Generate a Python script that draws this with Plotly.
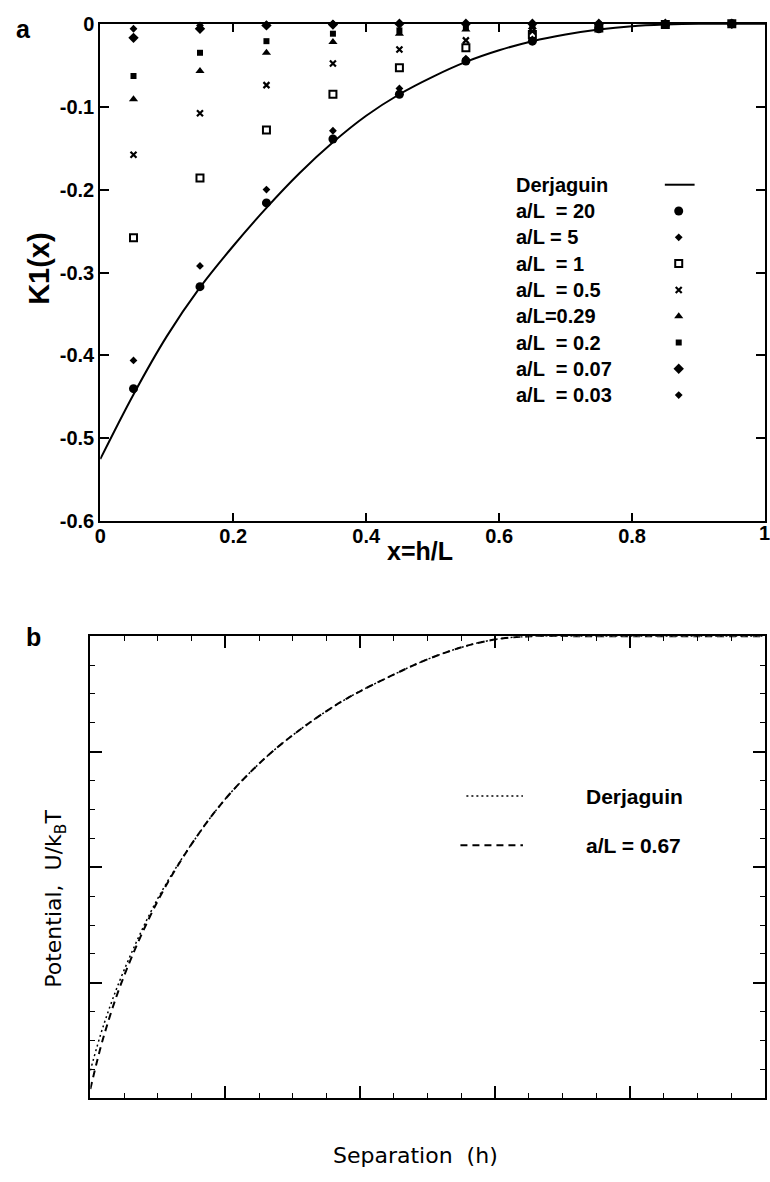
import plotly.graph_objects as go

# ---------------- Panel a data ----------------
x_pts = [0.05, 0.15, 0.25, 0.35, 0.45, 0.55, 0.65, 0.75, 0.85, 0.95]

derj_x = [0, 0.05, 0.1, 0.15, 0.2, 0.25, 0.3, 0.35, 0.4, 0.45, 0.5,
          0.55, 0.6, 0.65, 0.7, 0.75, 0.8, 0.85, 0.9, 0.95, 1.0]
derj_y = [-0.525, -0.447, -0.377, -0.318, -0.268, -0.222, -0.180, -0.143, -0.111, -0.085, -0.064,
          -0.046, -0.032, -0.021, -0.013, -0.007, -0.003, -0.001, 0.0, 0.0, 0.0]

aL_20 = [-0.440, -0.317, -0.216, -0.139, -0.085, -0.045, -0.021, -0.006, -0.001, 0.0]
aL_5 = [-0.406, -0.292, -0.200, -0.129, -0.078, -0.042, -0.019, -0.006, -0.001, 0.0]
aL_1 = [-0.258, -0.186, -0.128, -0.085, -0.053, -0.029, -0.013, -0.005, -0.001, 0.0]
aL_05 = [-0.158, -0.108, -0.074, -0.048, -0.031, -0.020, -0.009, -0.004, -0.001, 0.0]
aL_029 = [-0.091, -0.057, -0.035, -0.022, -0.012, -0.007, -0.004, -0.002, 0.0, 0.0]
aL_02 = [-0.063, -0.035, -0.021, -0.012, -0.008, -0.005, -0.003, -0.001, 0.0, 0.0]
aL_007 = [-0.017, -0.006, -0.002, -0.001, 0.0, 0.0, 0.0, 0.0, 0.0, 0.0]
aL_003 = [-0.006, -0.002, -0.001, 0.0, 0.0, 0.0, 0.0, 0.0, 0.0, 0.0]

series_labels = ["a/L  = 20", "a/L = 5", "a/L  = 1", "a/L  = 0.5", "a/L=0.29",
                 "a/L  = 0.2", "a/L  = 0.07", "a/L  = 0.03"]
series_values = [aL_20, aL_5, aL_1, aL_05, aL_029, aL_02, aL_007, aL_003]

x_ticks_a = [0, 0.2, 0.4, 0.6, 0.8, 1]
x_ticklabels_a = ["0", "0.2", "0.4", "0.6", "0.8", "1"]
y_ticks_a = [0, -0.1, -0.2, -0.3, -0.4, -0.5, -0.6]
y_ticklabels_a = ["0", "-0.1", "-0.2", "-0.3", "-0.4", "-0.5", "-0.6"]

# ---------------- Panel b data ----------------
sep_x = [0, 0.1, 0.25, 0.5, 0.75, 1.0, 1.3, 1.6, 1.9, 2.2, 2.5, 2.8, 3.05, 3.3, 3.6, 4.0, 4.5, 5.0]
pot_067 = [-3.92, -3.46, -2.94, -2.29, -1.80, -1.41, -1.05, -0.77, -0.54, -0.36, -0.20, -0.08,
           -0.02, 0.0, 0.0, 0.0, 0.0, 0.0]
pot_derj = [-3.76, -3.36, -2.89, -2.27, -1.80, -1.41, -1.05, -0.77, -0.54, -0.36, -0.20, -0.08,
            -0.02, 0.0, 0.0, 0.0, 0.0, 0.0]

# ---------------- styles ----------------
W, H = 770, 1182
BOLD = "Liberation Sans"
GOTH = "DejaVu Sans"


def bfont(size):
    return dict(family=BOLD, size=size, color="black", weight="bold")


marker_styles = [
    dict(symbol="circle", size=9),
    dict(symbol="diamond", size=6),
    dict(symbol="square-open", size=7, line=dict(width=2)),
    dict(symbol="x-thin-open", size=6, line=dict(width=2.2)),
    dict(symbol="triangle-up", size=8),
    dict(symbol="square", size=6),
    dict(symbol="diamond", size=8),
    dict(symbol="diamond", size=6),
]


def mk(ms):
    m = dict(color="black", **{k: v for k, v in ms.items() if k != "line"})
    m["line"] = dict(color="black", width=ms.get("line", {}).get("width", 0))
    return m


fig = go.Figure()

# Derjaguin curve panel a
fig.add_trace(go.Scatter(x=derj_x, y=derj_y, mode="lines", line=dict(color="black", width=2, shape="spline"),
                         xaxis="x", yaxis="y", showlegend=False, cliponaxis=False))
for vals, ms in zip(series_values, marker_styles):
    fig.add_trace(go.Scatter(x=x_pts, y=vals, mode="markers", marker=mk(ms), xaxis="x", yaxis="y",
                             showlegend=False, cliponaxis=False))

# Panel b curves
fig.add_trace(go.Scatter(x=sep_x, y=pot_derj, mode="lines",
                         line=dict(color="black", width=1.5, dash="2px,3px", shape="spline", smoothing=1.0),
                         xaxis="x2", yaxis="y2", showlegend=False))
fig.add_trace(go.Scatter(x=sep_x, y=pot_067, mode="lines",
                         line=dict(color="black", width=2, dash="7px,5px", shape="spline", smoothing=1.0),
                         xaxis="x2", yaxis="y2", showlegend=False))

# Legend keys (overlay axis in pixel coordinates)
leg_top = 177
leg_step = 26.8
leg_text_x = 512
leg_key_x = 678
for i, ms in enumerate(marker_styles):
    yy = leg_top + leg_step * (i + 1)
    fig.add_trace(go.Scatter(x=[leg_key_x], y=[yy], mode="markers", marker=mk(ms),
                             xaxis="x3", yaxis="y3", showlegend=False))

annotations = [dict(text="Derjaguin", x=leg_text_x, y=leg_top, xref="x3", yref="y3",
                    xanchor="left", yanchor="middle", showarrow=False, font=bfont(20))]
for i, lab in enumerate(series_labels):
    annotations.append(dict(text=lab, x=leg_text_x, y=leg_top + leg_step * (i + 1), xref="x3", yref="y3",
                            xanchor="left", yanchor="middle", showarrow=False, font=bfont(20)))

PB_TOP, PB_BOT = 637, 1108
LB1, LB2 = 800, 850

shapes = [
    dict(type="line", xref="x3", yref="y3", x0=664, x1=694, y0=leg_top, y1=leg_top,
         line=dict(color="black", width=2)),
    dict(type="line", xref="x3", yref="y3", x0=464, x1=521, y0=LB1, y1=LB1,
         line=dict(color="black", width=1.5, dash="2px,3px")),
    dict(type="line", xref="x3", yref="y3", x0=458, x1=521, y0=LB2, y1=LB2,
         line=dict(color="black", width=2, dash="7px,5px")),
]

annotations += [
    dict(text="Derjaguin", x=583, y=LB1, xref="x3", yref="y3", xanchor="left", yanchor="middle",
         showarrow=False, font=bfont(21)),
    dict(text="a/L = 0.67", x=583, y=LB2, xref="x3", yref="y3", xanchor="left", yanchor="middle",
         showarrow=False, font=bfont(21)),
    dict(text="a", x=18, y=18, xref="x3", yref="y3", xanchor="center", yanchor="middle",
         showarrow=False, font=bfont(25)),
    dict(text="b", x=28, y=638, xref="x3", yref="y3", xanchor="center", yanchor="middle",
         showarrow=False, font=bfont(25)),
    dict(text="K1(x)", x=33, y=262, xref="x3", yref="y3", xanchor="center", yanchor="middle",
         textangle=-90, showarrow=False, font=bfont(29)),
    dict(text="x=h/L", x=417, y=550, xref="x3", yref="y3", xanchor="center", yanchor="middle",
         showarrow=False, font=bfont(25)),
    dict(text="1", x=764, y=532, xref="x3", yref="y3", xanchor="center", yanchor="middle",
         showarrow=False, font=bfont(20)),
    dict(text="Separation  (h)", x=413, y=1166, xref="x3", yref="y3", xanchor="center", yanchor="middle",
         showarrow=False, font=dict(family=GOTH, size=22, color="black")),
    dict(text="Potential,  U/k<sub>B</sub>T", x=50, y=905, xref="x3", yref="y3", xanchor="center",
         yanchor="middle", textangle=-90, showarrow=False, font=dict(family=GOTH, size=22, color="black")),
]

axis_common = dict(showline=True, linecolor="black", linewidth=2, mirror="ticks", ticks="inside",
                   tickcolor="black", showgrid=False, zeroline=False)

fig.update_layout(
    width=W, height=H, margin=dict(l=0, r=0, t=0, b=0),
    paper_bgcolor="white", plot_bgcolor="rgba(0,0,0,0)",
    xaxis=dict(domain=[95 / W, 765 / W], range=[0, 1], anchor="y",
               tickvals=x_ticks_a[:-1], ticktext=x_ticklabels_a[:-1], ticklen=8, tickwidth=1.5,
               ticklabelstandoff=-4, tickfont=bfont(20), **axis_common),
    yaxis=dict(domain=[1 - 520 / H, 1 - 13 / H], range=[-0.6, 0], anchor="x",
               tickvals=y_ticks_a, ticktext=y_ticklabels_a, ticklen=9, tickwidth=1.5,
               tickfont=bfont(20), **axis_common),
    xaxis2=dict(domain=[85 / W, 765 / W], range=[0, 5], anchor="y2", dtick=1, tick0=0,
                ticklen=12, tickwidth=1.5, showticklabels=False,
                minor=dict(dtick=0.25, ticks="inside", ticklen=5, tickwidth=1.2, tickcolor="black"),
                **axis_common),
    yaxis2=dict(domain=[1 - PB_BOT / H, 1 - PB_TOP / H], range=[-4, 0], anchor="x2", dtick=1, tick0=0,
                ticklen=12, tickwidth=1.5, showticklabels=False,
                minor=dict(dtick=0.25, ticks="inside", ticklen=5, tickwidth=1.2, tickcolor="black"),
                **axis_common),
    xaxis3=dict(domain=[0, 1], range=[0, W], visible=False, anchor="y3", fixedrange=True),
    yaxis3=dict(domain=[0, 1], range=[H, 0], visible=False, anchor="x3", fixedrange=True),
    annotations=annotations,
    shapes=shapes,
)

fig.write_html("out.html")
